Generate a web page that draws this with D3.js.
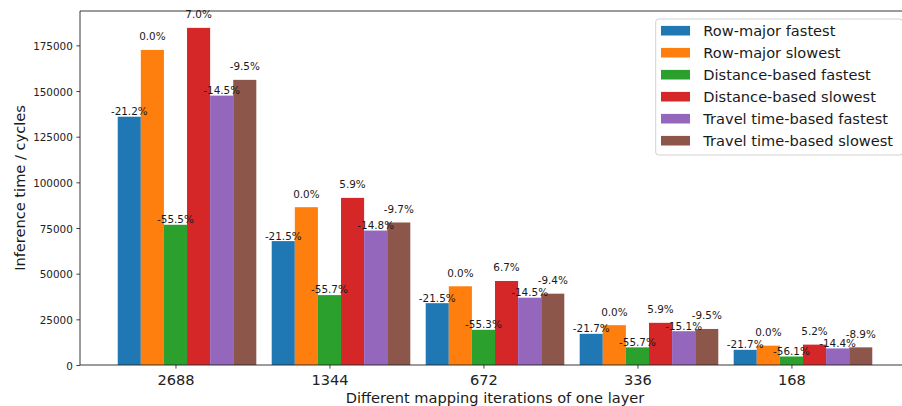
<!DOCTYPE html>
<html>
<head>
<meta charset="utf-8">
<script src="https://cdn.jsdelivr.net/npm/d3@7/dist/d3.min.js"></script>
<style>
  html, body { margin: 0; padding: 0; background: #fff; }
  svg { display: block; font-family: "DejaVu Sans", sans-serif; }
</style>
</head>
<body>
<svg id="chart" width="902" height="406"></svg>
<script>
// Mapping iterations per layer (x categories)
const categories = ["2688", "1344", "672", "336", "168"];

// Series names, in drawing order
const seriesNames = [
  "Row-major fastest",
  "Row-major slowest",
  "Distance-based fastest",
  "Distance-based slowest",
  "Travel time-based fastest",
  "Travel time-based slowest"
];

// Inference time in cycles for each series
const rowMajorFastest      = [135930, 67830, 33840, 17070, 8300];
const rowMajorSlowest      = [172500, 86400, 43100, 21800, 10600];
const distanceFastest      = [76770, 38270, 19270, 9660, 4655];
const distanceSlowest      = [184580, 91500, 45990, 23090, 11150];
const travelTimeFastest    = [147490, 73610, 36855, 18510, 9075];
const travelTimeSlowest    = [156110, 78020, 39050, 19730, 9655];

const yTickValues = [0, 25000, 50000, 75000, 100000, 125000, 150000, 175000];

const seriesColors = ["#1f77b4", "#ff7f0e", "#2ca02c", "#d62728", "#9467bd", "#8c564b"];

const series = [rowMajorFastest, rowMajorSlowest, distanceFastest,
                distanceSlowest, travelTimeFastest, travelTimeSlowest];

// Layout of the plotting area
const plot = { left: 80, right: 910, top: 11, bottom: 365 };
const barW = 0.15;
const nSeries = series.length;

// x: group index with matplotlib-style 5% margins around the bar extents
const xMinData = -2.5 * barW;
const xMaxData = (categories.length - 1) + (nSeries - 2.5) * barW;
const xPad = 0.05 * (xMaxData - xMinData);
const x = d3.scaleLinear()
  .domain([xMinData - xPad, xMaxData + xPad])
  .range([plot.left, plot.right]);

const yMax = d3.max(series.flat()) * 1.05;
const y = d3.scaleLinear().domain([0, yMax]).range([plot.bottom, plot.top]);

const svg = d3.select("#chart");

// Bars
series.forEach((vals, s) => {
  svg.append("g")
    .selectAll("rect")
    .data(vals)
    .join("rect")
    .attr("x", (d, i) => x(i + (s - 2) * barW - barW / 2))
    .attr("width", x(barW) - x(0))
    .attr("y", d => y(d))
    .attr("height", d => y(0) - y(d))
    .attr("fill", seriesColors[s]);
});

// Y axis
const yAxis = d3.axisLeft(y)
  .tickValues(yTickValues)
  .tickFormat(d3.format("d"))
  .tickSize(3.6)
  .tickPadding(3.6);
const gy = svg.append("g").attr("transform", `translate(${plot.left},0)`).call(yAxis);
gy.select(".domain").remove();
gy.selectAll(".tick line").attr("stroke", "#222").attr("stroke-width", 0.85);
gy.selectAll(".tick text")
  .attr("font-family", "DejaVu Sans")
  .attr("font-size", "10.4px")
  .attr("fill", "#222")
  .attr("dy", "0.4em");

// X axis
const xAxis = d3.axisBottom(x)
  .tickValues(d3.range(categories.length))
  .tickFormat(i => categories[i])
  .tickSize(3.6)
  .tickPadding(3.6);
const gx = svg.append("g").attr("transform", `translate(0,${plot.bottom})`).call(xAxis);
gx.select(".domain").remove();
gx.selectAll(".tick line").attr("stroke", "#222").attr("stroke-width", 0.85);
gx.selectAll(".tick text")
  .attr("font-family", "DejaVu Sans")
  .attr("font-size", "14.6px")
  .attr("fill", "#222")
  .attr("y", null)
  .attr("dy", null)
  .attr("transform", "translate(0,20)");

// Frame
const frame = svg.append("g").attr("stroke", "#222").attr("stroke-width", 0.9).attr("fill", "none");
frame.append("line").attr("x1", plot.left).attr("x2", plot.left).attr("y1", plot.top).attr("y2", plot.bottom);
frame.append("line").attr("x1", plot.right).attr("x2", plot.right).attr("y1", plot.top).attr("y2", plot.bottom);
frame.append("line").attr("x1", plot.left).attr("x2", plot.right).attr("y1", plot.top).attr("y2", plot.top);
frame.append("line").attr("x1", plot.left).attr("x2", plot.right).attr("y1", plot.bottom).attr("y2", plot.bottom);

// Percentage labels relative to row-major slowest; slowest variants sit a bit higher
series.forEach((vals, s) => {
  svg.append("g")
    .selectAll("text")
    .data(vals)
    .join("text")
    .attr("x", (d, i) => x(i + (s - 2) * barW))
    .attr("y", d => y(d) - (s % 2 === 1 ? 9.6 : 1.6))
    .attr("text-anchor", "middle")
    .attr("font-size", "10.4px")
    .attr("fill", "#1a1a1a")
    .text((d, i) => ((d / rowMajorSlowest[i] - 1) * 100).toFixed(1) + "%");
});

// Axis titles
svg.append("text")
  .attr("x", (plot.left + plot.right) / 2)
  .attr("y", 403)
  .attr("text-anchor", "middle")
  .attr("font-size", "14.6px")
  .attr("fill", "#1a1a1a")
  .text("Different mapping iterations of one layer");

svg.append("text")
  .attr("transform", `translate(24.5,${(plot.top + plot.bottom) / 2}) rotate(-90)`)
  .attr("text-anchor", "middle")
  .attr("font-size", "14.6px")
  .attr("fill", "#1a1a1a")
  .text("Inference time / cycles");

// Legend
const legend = svg.append("g");
legend.append("rect")
  .attr("x", 655.7).attr("y", 19)
  .attr("width", 247).attr("height", 136)
  .attr("rx", 3)
  .attr("fill", "rgba(255,255,255,0.8)")
  .attr("stroke", "#d0d0d0")
  .attr("stroke-width", 1);
seriesNames.forEach((name, s) => {
  const cy = 30.7 + s * 22;
  legend.append("rect")
    .attr("x", 661).attr("y", cy - 4.8)
    .attr("width", 29).attr("height", 9.6)
    .attr("fill", seriesColors[s]);
  legend.append("text")
    .attr("x", 703.3).attr("y", cy + 5.4)
    .attr("font-size", "14.6px")
    .attr("fill", "#1a1a1a")
    .text(name);
});
</script>
</body>
</html>
